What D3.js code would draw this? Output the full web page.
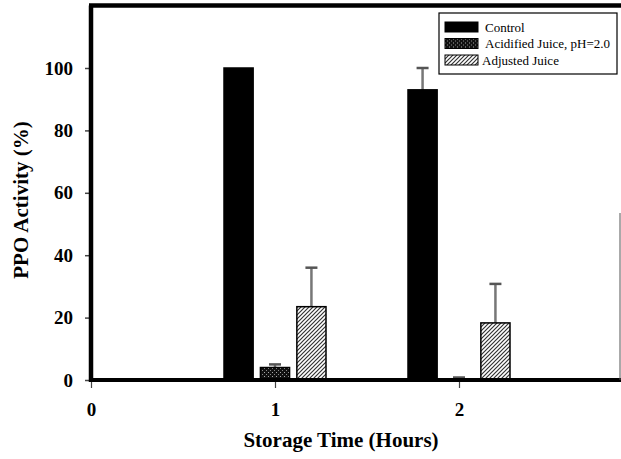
<!DOCTYPE html>
<html>
<head>
<meta charset="utf-8">
<script src="https://cdn.jsdelivr.net/npm/d3@7"></script>
<style>
  body { margin: 0; background: #fff; }
  svg { display: block; }
  svg text { font-family: "Liberation Serif", Tinos, "Times New Roman", Times, "DejaVu Serif", serif !important; }
</style>
</head>
<body>
<script>
// chart data
const hours = [1, 2];
const seriesNames = ['Control', 'Acidified Juice, pH=2.0', 'Adjusted Juice'];
const control = [100, 93];
const controlErr = [0, 7];
const acidified = [4, 0.3];
const acidifiedErr = [1, 0.5];
const adjusted = [23.5, 18.3];
const adjustedErr = [12.5, 12.5];
const yTicks = [0, 20, 40, 60, 80, 100];
const xTicks = [0, 1, 2];

const width = 621;
const height = 459;

const svg = d3.select('body').append('svg')
    .attr('width', width)
    .attr('height', height);

// patterns for the bar fills
const defs = svg.append('defs');
const speck = defs.append('pattern')
    .attr('id', 'speck')
    .attr('patternUnits', 'userSpaceOnUse')
    .attr('width', 4).attr('height', 4);
speck.append('rect').attr('width', 4).attr('height', 4).attr('fill', '#111');
speck.append('rect').attr('x', 0).attr('y', 0).attr('width', 1).attr('height', 1).attr('fill', '#aaa');
speck.append('rect').attr('x', 2).attr('y', 2).attr('width', 1).attr('height', 1).attr('fill', '#888');

const hatch = defs.append('pattern')
    .attr('id', 'hatch')
    .attr('patternUnits', 'userSpaceOnUse')
    .attr('width', 4).attr('height', 4);
hatch.append('rect').attr('width', 4).attr('height', 4).attr('fill', '#fff');
hatch.append('path')
    .attr('d', 'M-1,1 l2,-2 M0,4 l4,-4 M3,5 l2,-2')
    .attr('stroke', '#333')
    .attr('stroke-width', 1.2);

const fills = ['#000', 'url(#speck)', 'url(#hatch)'];

// scales
const x = d3.scaleLinear().domain([0, 3]).range([91, 643]);
const y = d3.scaleLinear().domain([0, 120]).range([380, 5.6]);
const xSub = d3.scaleBand().domain(seriesNames).range([-51, 51]).paddingInner(0.2);

// build table
const values = [control, acidified, adjusted];
const errors = [controlErr, acidifiedErr, adjustedErr];
const bars = [];
hours.forEach((h, i) => {
    seriesNames.forEach((s, j) => {
        bars.push({ hour: h, series: s, idx: j, value: values[j][i], err: errors[j][i] });
    });
});

// error bars (drawn behind bars)
const eb = svg.append('g');
bars.filter(d => d.err > 0).forEach(d => {
    const cx = x(d.hour) + xSub(d.series) + xSub.bandwidth() / 2;
    eb.append('line')
        .attr('x1', cx).attr('x2', cx)
        .attr('y1', y(d.value)).attr('y2', y(d.value + d.err))
        .attr('stroke', '#777').attr('stroke-width', 2.5);
    eb.append('line')
        .attr('x1', cx - 6).attr('x2', cx + 6)
        .attr('y1', y(d.value + d.err)).attr('y2', y(d.value + d.err))
        .attr('stroke', '#555').attr('stroke-width', 2.5);
});

// bars
svg.append('g').selectAll('rect')
    .data(bars)
    .enter().append('rect')
    .attr('x', d => x(d.hour) + xSub(d.series))
    .attr('y', d => y(d.value))
    .attr('width', xSub.bandwidth())
    .attr('height', d => y(0) - y(d.value))
    .attr('fill', d => fills[d.idx])
    .attr('stroke', '#000')
    .attr('stroke-width', 1.5);

// y axis
const yAxis = svg.append('g')
    .attr('transform', 'translate(' + x(0) + ',0)')
    .call(d3.axisLeft(y).tickValues(yTicks).tickSize(6).tickPadding(12));
yAxis.attr('font-family', null);
yAxis.select('.domain').remove();
yAxis.selectAll('line').attr('stroke', '#444').attr('stroke-width', 1.5);
yAxis.selectAll('text')
    .attr('font-size', 19).attr('font-weight', 'bold').attr('fill', '#000');

// x axis
const xAxis = svg.append('g')
    .attr('transform', 'translate(0,' + y(0) + ')')
    .call(d3.axisBottom(x).tickValues(xTicks).tickFormat(d3.format('d')).tickSize(8).tickPadding(15));
xAxis.attr('font-family', null);
xAxis.select('.domain').remove();
xAxis.selectAll('line').attr('stroke', '#444').attr('stroke-width', 1.2);
xAxis.selectAll('text')
    .attr('font-size', 19).attr('font-weight', 'bold').attr('fill', '#000');

// frame
svg.append('line')
    .attr('x1', x(0)).attr('x2', width)
    .attr('y1', y(0)).attr('y2', y(0))
    .attr('stroke', '#000').attr('stroke-width', 4);
svg.append('line')
    .attr('x1', x(0)).attr('x2', x(0))
    .attr('y1', y(120)).attr('y2', y(0) + 2)
    .attr('stroke', '#000').attr('stroke-width', 4.5);
svg.append('line')
    .attr('x1', x(0) - 2).attr('x2', width)
    .attr('y1', y(120)).attr('y2', y(120))
    .attr('stroke', '#000').attr('stroke-width', 4.5);
svg.append('line')
    .attr('x1', 620).attr('x2', 620)
    .attr('y1', 213).attr('y2', y(0))
    .attr('stroke', '#555').attr('stroke-width', 1);

// axis titles
svg.append('text')
    .attr('x', 341).attr('y', 447)
    .attr('text-anchor', 'middle')
    .attr('font-size', 21).attr('font-weight', 'bold')
    .text('Storage Time (Hours)');
svg.append('text')
    .attr('transform', 'translate(28,200) rotate(-90)')
    .attr('text-anchor', 'middle')
    .attr('font-size', 21).attr('font-weight', 'bold')
    .text('PPO Activity (%)');

// legend
const legend = svg.append('g').attr('transform', 'translate(439,13)');
legend.append('rect')
    .attr('width', 178).attr('height', 61)
    .attr('fill', '#fff').attr('stroke', '#000').attr('stroke-width', 1.2);
const item = legend.selectAll('.item')
    .data(seriesNames)
    .enter().append('g')
    .attr('class', 'item')
    .attr('transform', (d, i) => 'translate(6,' + (9 + i * 16.5) + ')');
item.append('rect')
    .attr('width', 33).attr('height', 10)
    .attr('fill', (d, i) => fills[i])
    .attr('stroke', '#000').attr('stroke-width', 1);
item.append('text')
    .attr('x', (d, i) => i === 2 ? 37 : 40)
    .attr('y', 5)
    .attr('dy', '.35em')
    .attr('font-size', 13)
    .text(d => d);
</script>
</body>
</html>
